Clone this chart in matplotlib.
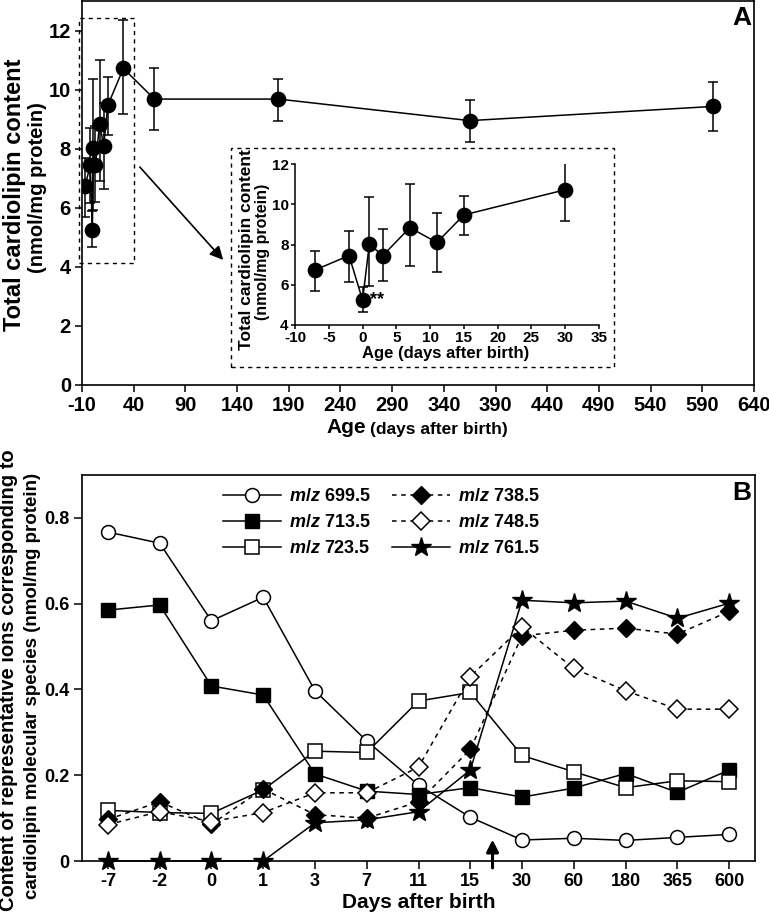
import matplotlib
matplotlib.use('Agg')
import matplotlib.pyplot as plt
from matplotlib.patches import Rectangle

plt.rcParams['font.family'] = ['Liberation Sans', 'DejaVu Sans']
plt.rcParams['font.weight'] = 'bold'
plt.rcParams['axes.unicode_minus'] = False
plt.rcParams['mathtext.fontset'] = 'custom'
plt.rcParams['mathtext.it'] = 'Liberation Sans:italic:bold'
plt.rcParams['mathtext.rm'] = 'Liberation Sans:bold'

# panel A: total cardiolipin content (mean with error bar ends)
ages = [-7, -2, 0, 1, 3, 7, 11, 15, 30, 60, 180, 365, 600]
cl_mean = [6.74, 7.45, 5.24, 8.01, 7.45, 8.84, 8.10, 9.47, 10.72, 9.68, 9.68, 8.95, 9.43]
cl_low = [5.69, 6.15, 4.66, 5.94, 6.20, 6.92, 6.65, 8.48, 9.17, 8.64, 8.94, 8.24, 8.61]
cl_high = [7.70, 8.69, 5.90, 10.35, 8.76, 11.00, 9.56, 10.43, 12.35, 10.72, 10.36, 9.66, 10.27]

# panel B: ion content per time point
day_labels = ['-7', '-2', '0', '1', '3', '7', '11', '15', '30', '60', '180', '365', '600']
mz699 = [0.767, 0.741, 0.560, 0.615, 0.397, 0.280, 0.177, 0.102, 0.049, 0.053, 0.048, 0.055, 0.062]
mz713 = [0.585, 0.597, 0.408, 0.387, 0.203, 0.163, 0.155, 0.171, 0.149, 0.170, 0.204, 0.160, 0.212]
mz723 = [0.118, 0.113, 0.111, 0.166, 0.256, 0.253, 0.373, 0.393, 0.246, 0.208, 0.171, 0.187, 0.185]
mz738 = [0.097, 0.138, 0.086, 0.168, 0.108, 0.100, 0.138, 0.260, 0.525, 0.538, 0.543, 0.529, 0.582]
mz748 = [0.085, 0.115, 0.092, 0.113, 0.159, 0.159, 0.219, 0.430, 0.546, 0.449, 0.397, 0.354, 0.354]
mz761 = [0.0, 0.0, 0.0, 0.0, 0.089, 0.096, 0.115, 0.212, 0.608, 0.602, 0.606, 0.566, 0.601]

W, H = 769, 915


def fx(px):
    return px / W


def fy(py):
    return 1 - py / H


fig = plt.figure(figsize=(W / 100, H / 100), dpi=100)

err = [[m - l for m, l in zip(cl_mean, cl_low)], [h - m for m, h in zip(cl_mean, cl_high)]]

# ---- panel A main
axA = fig.add_axes([fx(82), fy(385), fx(754) - fx(82), fy(1) - fy(385)])
axA.errorbar(ages, cl_mean, yerr=err, fmt='o-', color='black', ms=10.3, lw=1.1,
             elinewidth=1.1, capsize=3.6, capthick=1.1)
axA.set_xlim(-10, 640)
axA.set_ylim(0, 13)
axA.set_xticks(range(-10, 641, 50))
axA.set_yticks(range(0, 13, 2))
axA.tick_params(direction='out', length=5, width=1.1, labelsize=14.5, pad=3)
for s in axA.spines.values():
    s.set_linewidth(1.2)
axA.add_patch(Rectangle((-13, 4.12), 53.3, 8.31, fill=False, ls=(0, (3, 3)), lw=1, clip_on=False))
axA.annotate('', xy=(fx(225), fy(262)), xytext=(fx(138), fy(165)), xycoords='figure fraction',
             textcoords='figure fraction',
             arrowprops=dict(arrowstyle='-|>', color='black', lw=1.2, mutation_scale=20))
fig.patches.append(Rectangle((fx(231), fy(367)), fx(614) - fx(231), fy(148) - fy(367), fill=False,
                             ls=(0, (3, 3)), lw=1, transform=fig.transFigure, figure=fig))

t1 = fig.text(fx(326), fy(437), 'Age', fontsize=15, ha='left', va='bottom')
axA.annotate('(days after birth)', xy=(1, 0), xycoords=t1, xytext=(3, 0), textcoords='offset points',
             fontsize=12.5, ha='left', va='bottom')
fig.text(fx(15), fy(195), 'Total cardiolipin content', fontsize=17, rotation=90, ha='center', va='center')
fig.text(fx(38), fy(188), '(nmol/mg protein)', fontsize=14.5, rotation=90, ha='center', va='center')
fig.text(fx(742), fy(18), 'A', fontsize=19, ha='center', va='center')

# ---- inset
axI = fig.add_axes([fx(295), fy(325), fx(599) - fx(295), fy(164) - fy(325)])
axI.patch.set_alpha(0)
n_in = sum(1 for a in ages if a <= 30)
axI.errorbar(ages[:n_in], cl_mean[:n_in], yerr=[err[0][:n_in], err[1][:n_in]], fmt='o-', color='black',
             ms=10.3, lw=1.1, elinewidth=1.1, capsize=3.6, capthick=1.1)
axI.set_xlim(-10, 35)
axI.set_ylim(4, 12)
axI.set_xticks(range(-10, 36, 5))
axI.set_yticks(range(4, 13, 2))
axI.spines['top'].set_visible(False)
axI.spines['right'].set_visible(False)
for s in axI.spines.values():
    s.set_linewidth(1.1)
axI.tick_params(direction='out', length=3, width=1.1, labelsize=11, pad=1.5)
axI.text(2.1, 5.25, '**', fontsize=13, ha='center', va='center')
fig.text(fx(446), fy(346), 'Age (days after birth)', fontsize=12, ha='center', va='top')
fig.text(fx(246), fy(250), 'Total cardiolipin content', fontsize=12.5, rotation=90, ha='center', va='center')
fig.text(fx(262), fy(252), '(nmol/mg protein)', fontsize=11.5, rotation=90, ha='center', va='center')

# ---- panel B
axB = fig.add_axes([fx(82), fy(861), fx(755) - fx(82), fy(475) - fy(861)])
x = list(range(len(day_labels)))
dash = (0, (3, 3))
axB.plot(x, mz699, '-', color='black', lw=1.1, marker='o', ms=10, mfc='white', mec='black', mew=1.1,
         label='$m/z$ 699.5', clip_on=False)
axB.plot(x, mz713, '-', color='black', lw=1.1, marker='s', ms=10, mfc='black', mec='black',
         label='$m/z$ 713.5', clip_on=False)
axB.plot(x, mz723, '-', color='black', lw=1.1, marker='s', ms=10, mfc='white', mec='black', mew=1.1,
         label='$m/z$ 723.5', clip_on=False)
axB.plot(x, mz738, ls=dash, color='black', lw=1.1, marker='D', ms=9, mfc='black', mec='black',
         label='$m/z$ 738.5', clip_on=False)
axB.plot(x, mz748, ls=dash, color='black', lw=1.1, marker='D', ms=9, mfc='white', mec='black', mew=1.1,
         label='$m/z$ 748.5', clip_on=False)
axB.plot(x, mz761, '-', color='black', lw=1.1, marker='*', ms=15, mfc='black', mec='black',
         label='$m/z$ 761.5', clip_on=False)
axB.set_xlim(-0.5, len(day_labels) - 0.5)
axB.set_ylim(0, 0.9)
axB.set_xticks(x)
axB.set_xticklabels(day_labels)
axB.set_yticks([0, 0.2, 0.4, 0.6, 0.8])
axB.set_yticklabels(['0', '0.2', '0.4', '0.6', '0.8'])
axB.tick_params(direction='out', length=6, width=1.1, labelsize=13, pad=3)
for s in axB.spines.values():
    s.set_linewidth(1.2)
axB.annotate('', xy=(7.43, 0.05), xytext=(7.43, -0.016), xycoords='data',
             arrowprops=dict(arrowstyle='-|>', color='black', lw=2.2, mutation_scale=18,
                             shrinkA=0, shrinkB=0), annotation_clip=False)
axB.legend(ncol=2, loc='upper left', bbox_to_anchor=((223 - 82) / 673, (861 - 488) / 386),
           frameon=False, fontsize=13, handlelength=3.2, handletextpad=0.45, columnspacing=1.2,
           labelspacing=0.5, borderpad=0, borderaxespad=0, numpoints=1)
fig.text(fx(419), fy(902), 'Days after birth', fontsize=15, ha='center', va='center')
fig.text(fx(9), fy(680), 'Content of representative ions corresponding to', fontsize=14.5, rotation=90,
         ha='center', va='center')
fig.text(fx(33), fy(686), 'cardiolipin molecular species (nmol/mg protein)', fontsize=13.5, rotation=90,
         ha='center', va='center')
fig.text(fx(742), fy(493), 'B', fontsize=19, ha='center', va='center')

fig.savefig('out.png', dpi=100)
